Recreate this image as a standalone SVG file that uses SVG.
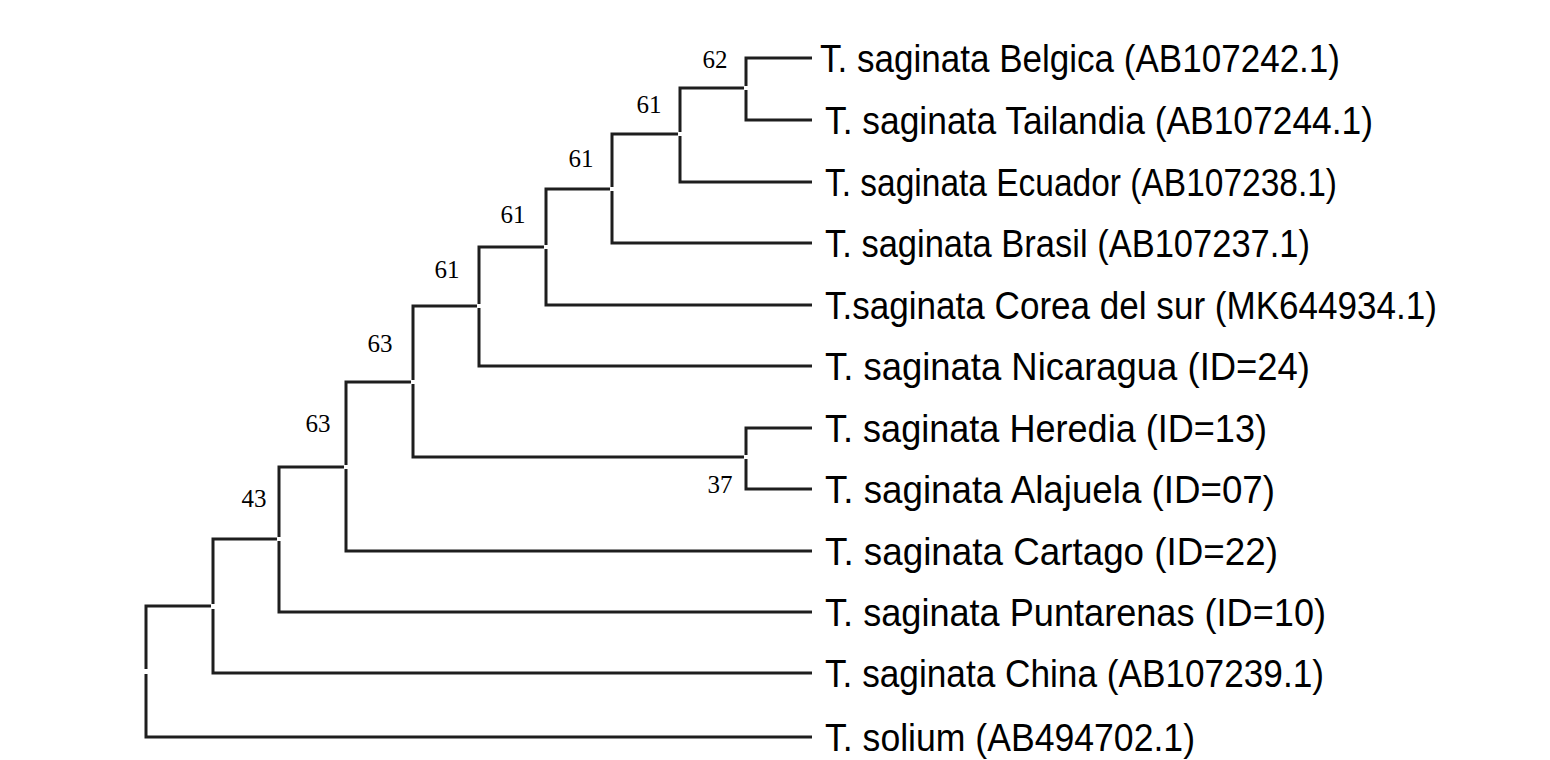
<svg xmlns="http://www.w3.org/2000/svg" width="1550" height="760" viewBox="0 0 1550 760">
<style>
.b{fill:none;stroke:#1e1e1e;stroke-width:3;stroke-linejoin:miter}
.leaf{font-family:"Liberation Sans",Arial,sans-serif;font-size:38px;fill:#000}
.bs{font-family:"Liberation Serif","Times New Roman",serif;font-size:25px;fill:#000;text-anchor:middle}
</style>
<rect width="1550" height="760" fill="#fff"/>
<g id="connectors">
<path class="b" d="M146,669 V606 H211"/>
<path class="b" d="M146,674 V737 H812"/>
<path class="b" d="M213,604 V539 H277"/>
<path class="b" d="M213,609 V673 H812"/>
<path class="b" d="M279,537 V467 H344"/>
<path class="b" d="M279,541 V612 H812"/>
<path class="b" d="M346,465 V382 H411"/>
<path class="b" d="M346,469 V551 H812"/>
<path class="b" d="M413,380 V306 H477"/>
<path class="b" d="M413,384 V457 H744"/>
<path class="b" d="M479,304 V247 H544"/>
<path class="b" d="M479,308 V366 H812"/>
<path class="b" d="M546,245 V189 H610"/>
<path class="b" d="M546,249 V305 H812"/>
<path class="b" d="M612,187 V134 H678"/>
<path class="b" d="M612,191 V243 H812"/>
<path class="b" d="M680,132 V88 H744"/>
<path class="b" d="M680,136 V182 H812"/>
<path class="b" d="M746,86 V58 H812"/>
<path class="b" d="M746,90 V120 H812"/>
<path class="b" d="M746,455 V428 H812"/>
<path class="b" d="M746,459 V489 H812"/>
</g>
<g id="support">
<text class="bs" x="715" y="68">62</text>
<text class="bs" x="649" y="113">61</text>
<text class="bs" x="581" y="167">61</text>
<text class="bs" x="513" y="223">61</text>
<text class="bs" x="447" y="278">61</text>
<text class="bs" x="380" y="352">63</text>
<text class="bs" x="318" y="432">63</text>
<text class="bs" x="254" y="507">43</text>
<text class="bs" x="720" y="493">37</text>
</g>
<g id="leaf-belgica"><text class="leaf" x="820" y="72" textLength="520" lengthAdjust="spacingAndGlyphs">T. saginata Belgica (AB107242.1)</text></g>
<g id="leaf-tailandia"><text class="leaf" x="825" y="134" textLength="548" lengthAdjust="spacingAndGlyphs">T. saginata Tailandia (AB107244.1)</text></g>
<g id="leaf-ecuador"><text class="leaf" x="825" y="196" textLength="512" lengthAdjust="spacingAndGlyphs">T. saginata Ecuador (AB107238.1)</text></g>
<g id="leaf-brasil"><text class="leaf" x="825" y="257" textLength="485" lengthAdjust="spacingAndGlyphs">T. saginata Brasil (AB107237.1)</text></g>
<g id="leaf-corea"><text class="leaf" x="825" y="319" textLength="612" lengthAdjust="spacingAndGlyphs">T.saginata Corea del sur (MK644934.1)</text></g>
<g id="leaf-nicaragua"><text class="leaf" x="825" y="380" textLength="485" lengthAdjust="spacingAndGlyphs">T. saginata Nicaragua (ID=24)</text></g>
<g id="leaf-heredia"><text class="leaf" x="825" y="442" textLength="442" lengthAdjust="spacingAndGlyphs">T. saginata Heredia (ID=13)</text></g>
<g id="leaf-alajuela"><text class="leaf" x="825" y="503" textLength="450" lengthAdjust="spacingAndGlyphs">T. saginata Alajuela (ID=07)</text></g>
<g id="leaf-cartago"><text class="leaf" x="825" y="565" textLength="453" lengthAdjust="spacingAndGlyphs">T. saginata Cartago (ID=22)</text></g>
<g id="leaf-puntarenas"><text class="leaf" x="825" y="626" textLength="501" lengthAdjust="spacingAndGlyphs">T. saginata Puntarenas (ID=10)</text></g>
<g id="leaf-china"><text class="leaf" x="825" y="687" textLength="499" lengthAdjust="spacingAndGlyphs">T. saginata China (AB107239.1)</text></g>
<g id="leaf-solium"><text class="leaf" x="825" y="751" textLength="370" lengthAdjust="spacingAndGlyphs">T. solium (AB494702.1)</text></g>
</svg>
